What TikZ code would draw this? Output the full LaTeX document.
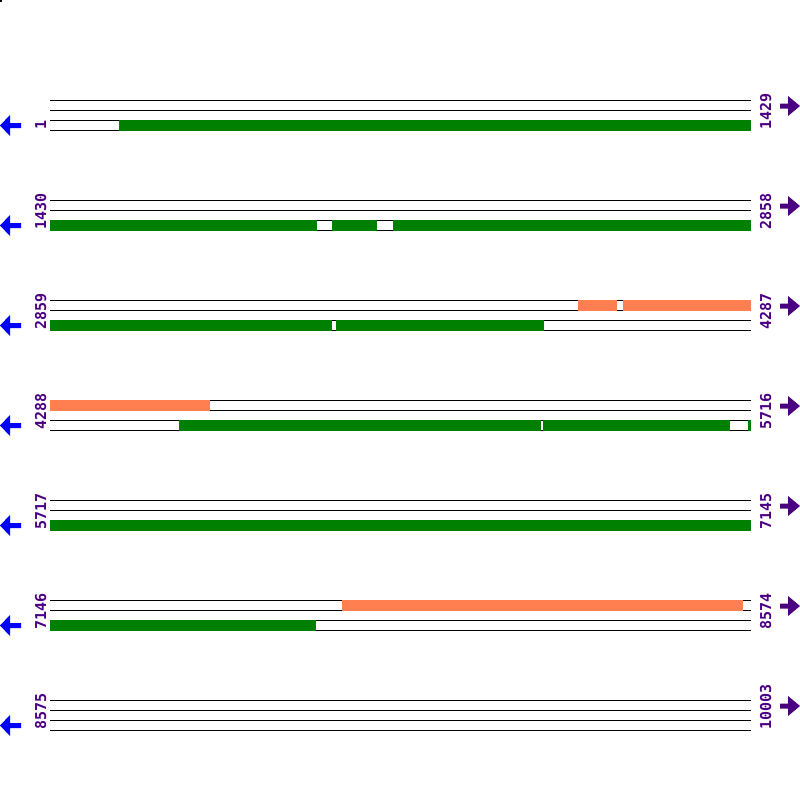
\documentclass[tikz,border=0pt]{standalone}
\usepackage{fontspec}
\setmonofont{DejaVu Sans Mono}
\usepackage{xcolor}
\usepackage{tikz}
\usetikzlibrary{positioning, calc}
\definecolor{seqpurple}{RGB}{75,0,130}
\definecolor{fwdorange}{RGB}{255,127,80}
\definecolor{revgreen}{RGB}{0,128,0}
\tikzset{
  strand/.style = {draw = black, line width = 1pt},
  fwdbox/.style = {fill = fwdorange},
  revbox/.style = {fill = revgreen},
  poslabel/.style = {text = seqpurple, font = \ttfamily\bfseries\fontsize{15}{15}\selectfont,
    rotate = 90, anchor = base west, inner sep = 0pt},
  leftarrow/.style = {fill = blue},
  rightarrow/.style = {fill = seqpurple}
}

\begin{document}
\begin{tikzpicture}[x = 1pt, y = -1pt]
        \useasboundingbox (0,0) rectangle (800,800);
        \fill (0,0) rectangle (2,2);
        % strand lines
        \draw [strand] (50,100) -- (751,100) (50,110) -- (751,110) (50,120) -- (751,120) (50,130) -- (751,130);
        \draw [strand] (50,200) -- (751,200) (50,210) -- (751,210) (50,220) -- (751,220) (50,230) -- (751,230);
        \draw [strand] (50,300) -- (751,300) (50,310) -- (751,310) (50,320) -- (751,320) (50,330) -- (751,330);
        \draw [strand] (50,400) -- (751,400) (50,410) -- (751,410) (50,420) -- (751,420) (50,430) -- (751,430);
        \draw [strand] (50,500) -- (751,500) (50,510) -- (751,510) (50,520) -- (751,520) (50,530) -- (751,530);
        \draw [strand] (50,600) -- (751,600) (50,610) -- (751,610) (50,620) -- (751,620) (50,630) -- (751,630);
        \draw [strand] (50,700) -- (751,700) (50,710) -- (751,710) (50,720) -- (751,720) (50,730) -- (751,730);
        % reverse strand features
        \fill [revbox] (119,119.5) rectangle (751,130.5);
        \fill [revbox] (50,219.5) rectangle (317,230.5);
        \fill [revbox] (332,219.5) rectangle (377,230.5);
        \fill [revbox] (393,219.5) rectangle (751,230.5);
        \fill [revbox] (50,319.5) rectangle (332,330.5);
        \fill [revbox] (336,319.5) rectangle (544,330.5);
        \fill [revbox] (179,419.5) rectangle (541,430.5);
        \fill [revbox] (543,419.5) rectangle (730,430.5);
        \fill [revbox] (748,419.5) rectangle (751,430.5);
        \fill [revbox] (50,519.5) rectangle (751,530.5);
        \fill [revbox] (50,619.5) rectangle (316,630.5);
        % forward strand features
        \fill [fwdbox] (578,299.5) rectangle (617,310.5);
        \fill [fwdbox] (623,299.5) rectangle (751,310.5);
        \fill [fwdbox] (50,399.5) rectangle (210,410.5);
        \fill [fwdbox] (342,599.5) rectangle (743,610.5);
        % positions
        \node [poslabel] (l1) at (46,130) {1};
        \node [poslabel] (l2) at (46,230) {1430};
        \node [poslabel] (l3) at (46,330) {2859};
        \node [poslabel] (l4) at (46,430) {4288};
        \node [poslabel] (l5) at (46,530) {5717};
        \node [poslabel] (l6) at (46,630) {7146};
        \node [poslabel] (l7) at (46,730) {8575};
        \node [poslabel] (r1) at (771,130) {1429};
        \node [poslabel] (r2) at (771,230) {2858};
        \node [poslabel] (r3) at (771,330) {4287};
        \node [poslabel] (r4) at (771,430) {5716};
        \node [poslabel] (r5) at (771,530) {7145};
        \node [poslabel] (r6) at (771,630) {8574};
        \node [poslabel] (r7) at (771,730) {10003};
        % direction arrows
        \fill [leftarrow] (0,125.5) -- (10,115) -- (10,123) -- (21,123) -- (21,128) -- (10,128) -- (10,136) -- cycle;
        \fill [leftarrow] (0,225.5) -- (10,215) -- (10,223) -- (21,223) -- (21,228) -- (10,228) -- (10,236) -- cycle;
        \fill [leftarrow] (0,325.5) -- (10,315) -- (10,323) -- (21,323) -- (21,328) -- (10,328) -- (10,336) -- cycle;
        \fill [leftarrow] (0,425.5) -- (10,415) -- (10,423) -- (21,423) -- (21,428) -- (10,428) -- (10,436) -- cycle;
        \fill [leftarrow] (0,525.5) -- (10,515) -- (10,523) -- (21,523) -- (21,528) -- (10,528) -- (10,536) -- cycle;
        \fill [leftarrow] (0,625.5) -- (10,615) -- (10,623) -- (21,623) -- (21,628) -- (10,628) -- (10,636) -- cycle;
        \fill [leftarrow] (0,725.5) -- (10,715) -- (10,723) -- (21,723) -- (21,728) -- (10,728) -- (10,736) -- cycle;
        \fill [rightarrow] (800,106) -- (788,96) -- (788,103.5) -- (780,103.5) -- (780,108.5) -- (788,108.5) -- (788,116) -- cycle;
        \fill [rightarrow] (800,206) -- (788,196) -- (788,203.5) -- (780,203.5) -- (780,208.5) -- (788,208.5) -- (788,216) -- cycle;
        \fill [rightarrow] (800,306) -- (788,296) -- (788,303.5) -- (780,303.5) -- (780,308.5) -- (788,308.5) -- (788,316) -- cycle;
        \fill [rightarrow] (800,406) -- (788,396) -- (788,403.5) -- (780,403.5) -- (780,408.5) -- (788,408.5) -- (788,416) -- cycle;
        \fill [rightarrow] (800,506) -- (788,496) -- (788,503.5) -- (780,503.5) -- (780,508.5) -- (788,508.5) -- (788,516) -- cycle;
        \fill [rightarrow] (800,606) -- (788,596) -- (788,603.5) -- (780,603.5) -- (780,608.5) -- (788,608.5) -- (788,616) -- cycle;
        \fill [rightarrow] (800,706) -- (788,696) -- (788,703.5) -- (780,703.5) -- (780,708.5) -- (788,708.5) -- (788,716) -- cycle;
    \end{tikzpicture}
\end{document}
